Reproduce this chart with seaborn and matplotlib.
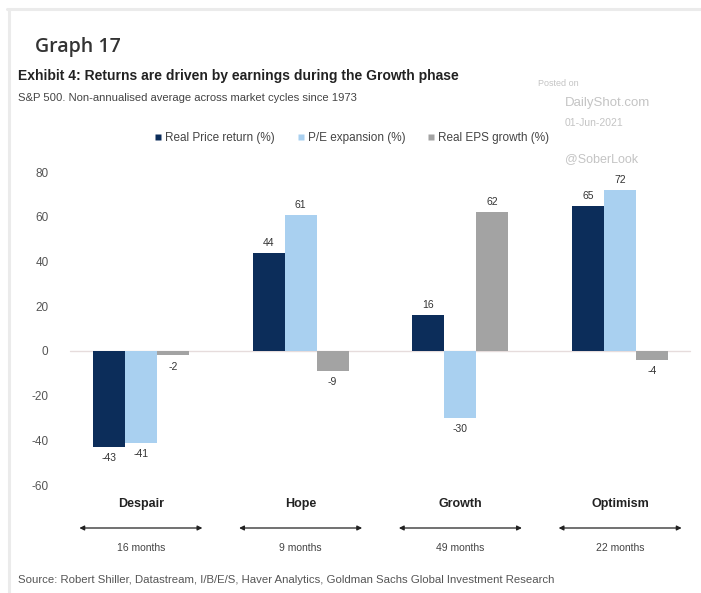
import matplotlib
matplotlib.use("Agg")
import matplotlib.pyplot as plt
from matplotlib.lines import Line2D
import seaborn as sns
import pandas as pd

# --- data -------------------------------------------------------------------
phases = ["Despair", "Hope", "Growth", "Optimism"]
durations = ["16 months", "9 months", "49 months", "22 months"]
series_names = ["Real Price return (%)", "P/E expansion (%)", "Real EPS growth (%)"]
real_price_return = [-43, 44, 16, 65]
pe_expansion = [-41, 61, -30, 72]
real_eps_growth = [-2, -9, 62, -4]
y_ticks = [-60, -40, -20, 0, 20, 40, 60, 80]

colors = ["#0c2d5a", "#a9d0f0", "#a3a3a3"]

df = pd.DataFrame({
    "phase": phases * 3,
    "series": [series_names[0]] * 4 + [series_names[1]] * 4 + [series_names[2]] * 4,
    "value": real_price_return + pe_expansion + real_eps_growth,
})

# --- figure -----------------------------------------------------------------
sns.set_style("white")
narrow = ["Liberation Sans Narrow", "Liberation Sans", "DejaVu Sans"]
plt.rcParams["font.family"] = ["Liberation Sans", "DejaVu Sans"]

W, H = 701, 593
fig = plt.figure(figsize=(W / 100, H / 100), dpi=100)
fig.patch.set_facecolor("white")

def fx(px):
    return px / W

def fy(py):
    return 1 - py / H

ax = fig.add_axes([fx(61), fy(489.7), 639 / W, 324.4 / H])

sns.barplot(data=df, x="phase", y="value", hue="series", order=phases,
            hue_order=series_names, palette=colors, width=0.6, dodge=True,
            saturation=1, edgecolor="none", linewidth=0, ax=ax, legend=False)

ax.set_xlim(-0.5, 3.5)
ax.set_ylim(-62, 83)
ax.set_yticks(y_ticks)
ax.set_yticklabels([str(v) for v in y_ticks], color="#555555", fontsize=8.5)
ax.tick_params(axis="y", length=0, pad=9)
for s in ax.spines.values():
    s.set_visible(False)
ax.set_xlabel("")
ax.set_ylabel("")

# category names under the chart
ax.set_xticks(range(len(phases)))
ax.set_xticklabels(phases, fontsize=9, fontweight="bold", color="#222222",
                   family=narrow)
ax.tick_params(axis="x", length=0, pad=6)

# zero line
ax.axhline(0, xmin=0.014, xmax=0.985, color="#e6dcdc", lw=1.0, zorder=0)

# value labels
for cont, vals in zip(ax.containers, [real_price_return, pe_expansion, real_eps_growth]):
    for bar, v in zip(cont, vals):
        xc = bar.get_x() + bar.get_width() / 2
        if v >= 0:
            ax.annotate(str(v), (xc, v), xytext=(0, 3.5), textcoords="offset points",
                        ha="center", va="bottom", fontsize=7.5, color="#333333")
        else:
            ax.annotate(str(v), (xc, v), xytext=(0, -4.5), textcoords="offset points",
                        ha="center", va="top", fontsize=7.5, color="#333333")

# duration arrows and labels
for i, d in enumerate(durations):
    ax.annotate("", xy=(i - 0.385, fy(528)), xytext=(i + 0.385, fy(528)),
                xycoords=("data", "figure fraction"),
                textcoords=("data", "figure fraction"),
                arrowprops=dict(arrowstyle="<|-|>", color="#222222", lw=0.9,
                                mutation_scale=7, shrinkA=0, shrinkB=0),
                annotation_clip=False)
    ax.annotate(d, xy=(i, fy(548)), xycoords=("data", "figure fraction"),
                ha="center", va="center", fontsize=7.5, color="#444444",
                family=narrow, annotation_clip=False)

# legend
handles = [Line2D([0], [0], marker="s", color="none", markerfacecolor=c,
                  markeredgecolor="none", markersize=5) for c in colors]
fig.legend(handles, series_names, loc="center", bbox_to_anchor=(fx(352), fy(138)),
           ncol=3, frameon=False, fontsize=8.5, handlelength=0.6, handletextpad=0.3,
           columnspacing=1.9, labelcolor="#444444")

# titles
fig.text(fx(35), fy(47), "Graph 17", fontsize=14, family=["Open Sans", "DejaVu Sans"],
         fontweight="semibold", color="#333333", va="center", ha="left")
fig.text(fx(18), fy(76), "Exhibit 4: Returns are driven by earnings during the Growth phase",
         fontsize=10, fontweight="bold", family=narrow, color="#222222",
         va="center", ha="left")
fig.text(fx(18), fy(98), "S&P 500. Non-annualised average across market cycles since 1973",
         fontsize=8.1, family=narrow, color="#444444", va="center", ha="left")
fig.text(fx(18), fy(580),
         "Source: Robert Shiller, Datastream, I/B/E/S, Haver Analytics, Goldman Sachs Global Investment Research",
         fontsize=8.2, family=narrow, color="#555555", va="center", ha="left")

# posting stamp
stamp = "#c4c4c4"
fig.text(fx(538), fy(83), "Posted on", fontsize=6.5, color=stamp, va="center", ha="left")
fig.text(fx(565), fy(103), "DailyShot.com", fontsize=9.5, color=stamp, va="center", ha="left")
fig.text(fx(565), fy(123), "01-Jun-2021", fontsize=7.5, color=stamp, va="center", ha="left")
fig.text(fx(565), fy(159), "@SoberLook", fontsize=9, color=stamp, va="center", ha="left")

# outer frame lines
fig.add_artist(Line2D([fx(7), 1], [fy(8.5), fy(8.5)], color="#ebebeb", lw=2.2,
                      transform=fig.transFigure))
fig.add_artist(Line2D([fx(8.5), fx(8.5)], [0, fy(8.5)], color="#ebebeb", lw=2.2,
                      transform=fig.transFigure))

fig.savefig("out.png", dpi=100, facecolor="white")
